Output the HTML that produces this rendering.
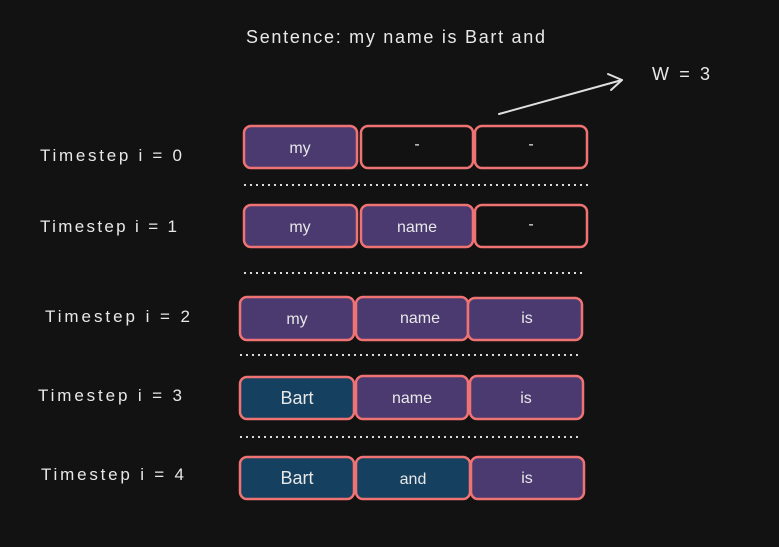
<!DOCTYPE html>
<html><head><meta charset="utf-8"><style>
html,body{margin:0;padding:0;background:#121212;}
svg{display:block;}
text{font-family:"Liberation Sans",sans-serif;fill:#e8e8e8;}
</style></head><body>
<svg width="779" height="547" viewBox="0 0 779 547" xmlns="http://www.w3.org/2000/svg">
<rect width="779" height="547" fill="#121212"/>
<text x="246" y="43" font-size="18" textLength="299" lengthAdjust="spacing">Sentence: my name is Bart and</text>
<line x1="499" y1="114" x2="622" y2="80" stroke="#e0e0e0" stroke-width="2" stroke-linecap="round"/>
<polyline points="608,74 622,80 611,90" fill="none" stroke="#e0e0e0" stroke-width="2" stroke-linecap="round" stroke-linejoin="round"/>
<text x="652" y="80" font-size="18" textLength="58" lengthAdjust="spacing">W = 3</text>
<g font-size="17">
<text x="40" y="161" textLength="142" lengthAdjust="spacing">Timestep i = 0</text>
<text x="40" y="232" textLength="137" lengthAdjust="spacing">Timestep i = 1</text>
<text x="45" y="322" textLength="145" lengthAdjust="spacing">Timestep i = 2</text>
<text x="38" y="401" textLength="144" lengthAdjust="spacing">Timestep i = 3</text>
<text x="41" y="480" textLength="143" lengthAdjust="spacing">Timestep i = 4</text>
</g>
<g stroke="#f07373" stroke-width="2.5">
<rect x="244" y="126" width="113" height="42" rx="7" fill="#4a3a70"/>
<rect x="361" y="126" width="112" height="42" rx="7" fill="#121212"/>
<rect x="475" y="126" width="112" height="42" rx="7" fill="#121212"/>
<rect x="244" y="205" width="113" height="42" rx="7" fill="#4a3a70"/>
<rect x="361" y="205" width="112" height="42" rx="7" fill="#4a3a70"/>
<rect x="475" y="205" width="112" height="42" rx="7" fill="#121212"/>
<rect x="240" y="297" width="114" height="43" rx="7" fill="#4a3a70"/>
<rect x="356" y="297" width="112" height="43" rx="7" fill="#4a3a70"/>
<rect x="468" y="298" width="114" height="42" rx="7" fill="#4a3a70"/>
<rect x="240" y="377" width="114" height="42" rx="7" fill="#15405f"/>
<rect x="356" y="376" width="112" height="43" rx="7" fill="#4a3a70"/>
<rect x="470" y="376" width="113" height="43" rx="7" fill="#4a3a70"/>
<rect x="240" y="457" width="114" height="42" rx="7" fill="#15405f"/>
<rect x="356" y="457" width="114" height="42" rx="7" fill="#15405f"/>
<rect x="471" y="457" width="113" height="42" rx="7" fill="#4a3a70"/>
</g>
<g stroke="#dddddd" stroke-width="2" stroke-dasharray="2,4">
<line x1="244" y1="185" x2="592" y2="185"/>
<line x1="244" y1="273" x2="586" y2="273"/>
<line x1="240" y1="355" x2="582" y2="355"/>
<line x1="240" y1="437" x2="582" y2="437"/>
</g>
<g font-size="16" text-anchor="middle">
<text x="300" y="153">my</text><text x="417" y="149">-</text><text x="531" y="149">-</text>
<text x="300" y="232">my</text><text x="417" y="232">name</text><text x="531" y="229">-</text>
<text x="297" y="324">my</text><text x="420" y="323">name</text><text x="527" y="323">is</text>
<text x="297" y="404" font-size="18">Bart</text><text x="412" y="403">name</text><text x="526" y="403">is</text>
<text x="297" y="484" font-size="18">Bart</text><text x="413" y="484">and</text><text x="527" y="483">is</text>
</g>
</svg>
</body></html>
